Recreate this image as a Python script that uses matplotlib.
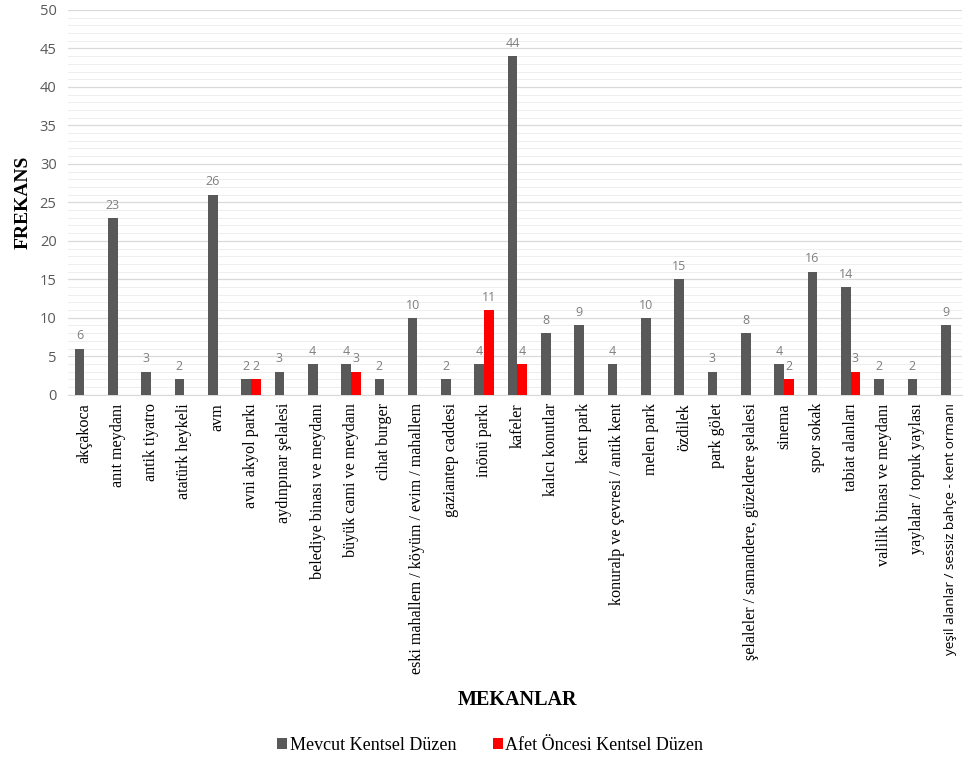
import numpy as np
import matplotlib.pyplot as plt
from matplotlib.ticker import MultipleLocator

mekanlar = ['akçakoca', 'anıt meydanı', 'antik tiyatro', 'atatürk heykeli', 'avm',
            'avni akyol parkı', 'aydınpınar şelalesi', 'belediye binası ve meydanı',
            'büyük cami ve meydanı', 'cihat burger', 'eski mahallem / köyüm / evim / mahallem',
            'gaziantep caddesi', 'inönü parkı', 'kafeler', 'kalıcı konutlar', 'kent park',
            'konuralp ve çevresi / antik kent', 'melen park', 'özdilek', 'park gölet',
            'şelaleler / samandere, güzeldere şelalesi', 'sinema', 'spor sokak',
            'tabiat alanları', 'valilik binası ve meydanı', 'yaylalar / topuk yaylası',
            'yeşil alanlar / sessiz bahçe - kent ormanı']
mevcut = [6, 23, 3, 2, 26, 2, 3, 4, 4, 2, 10, 2, 4, 44, 8, 9, 4, 10, 15, 3, 8, 4, 16, 14, 2, 2, 9]
afet = [None, None, None, None, None, 2, None, None, 3, None, None, None, 11, 4, None, None,
        None, None, None, None, None, 2, None, 3, None, None, None]

gri = '#595959'
kirmizi = '#ff0000'
serif = ['Liberation Serif', 'DejaVu Serif']
sans = ['Open Sans', 'DejaVu Sans']

fig = plt.figure(figsize=(9.67, 7.65), dpi=100)
ax = fig.add_axes([0.070, 0.484, 0.925, 0.503])

x = np.arange(len(mekanlar))
w = 0.29
afet_v = np.array([np.nan if v is None else v for v in afet], dtype=float)

b1 = ax.bar(x - w / 2, mevcut, w, color=gri, label='Mevcut Kentsel Düzen', zorder=3)
b2 = ax.bar(x + w / 2, np.nan_to_num(afet_v), w, color=kirmizi, label='Afet Öncesi Kentsel Düzen', zorder=3)

for xi, v in zip(x, mevcut):
    ax.text(xi - w / 2, v + 0.8, str(v), ha='center', va='bottom', fontsize=9,
            color='#7f7f7f', family=sans)
for xi, v in zip(x, afet_v):
    if not np.isnan(v):
        ax.text(xi + w / 2, v + 0.8, str(int(v)), ha='center', va='bottom', fontsize=9,
                color='#7f7f7f', family=sans)

ax.set_ylim(0, 50)
ax.set_xlim(-0.5, 26.35)
ax.yaxis.set_major_locator(MultipleLocator(5))
ax.yaxis.set_minor_locator(MultipleLocator(1))
ax.grid(axis='y', which='major', color='#d9d9d9', lw=0.9, zorder=0)
ax.grid(axis='y', which='minor', color='#eeeeee', lw=0.7, zorder=0)
for s in ['top', 'right', 'left']:
    ax.spines[s].set_visible(False)
ax.spines['bottom'].set_color('#d9d9d9')
ax.tick_params(axis='y', which='both', length=0, labelsize=10.5, labelcolor='#595959', pad=8)
ax.tick_params(axis='x', length=0, pad=6)
for t in ax.get_yticklabels():
    t.set_family(sans)

ax.set_xticks(x)
ax.set_xticklabels(mekanlar, rotation=90, fontsize=11.6, family=serif, color='#000000')
# son etiket referansta sans-serif gorunuyor
son = ax.get_xticklabels()[-1]
son.set_family(sans)
son.set_fontsize(9.7)

ax.set_ylabel('FREKANS', fontsize=14, fontweight='bold', family=serif, labelpad=6)
fig.text(0.535, 0.085, 'MEKANLAR', ha='center', va='center', fontsize=14.5,
         fontweight='bold', family=serif)

fig.legend(handles=[b1, b2], loc='center', bbox_to_anchor=(0.507, 0.026), ncol=2,
           frameon=False, prop={'family': serif, 'size': 13}, handlelength=0.55,
           handleheight=0.55, handletextpad=0.15, columnspacing=2.0)

fig.savefig('out.png', dpi=100)
